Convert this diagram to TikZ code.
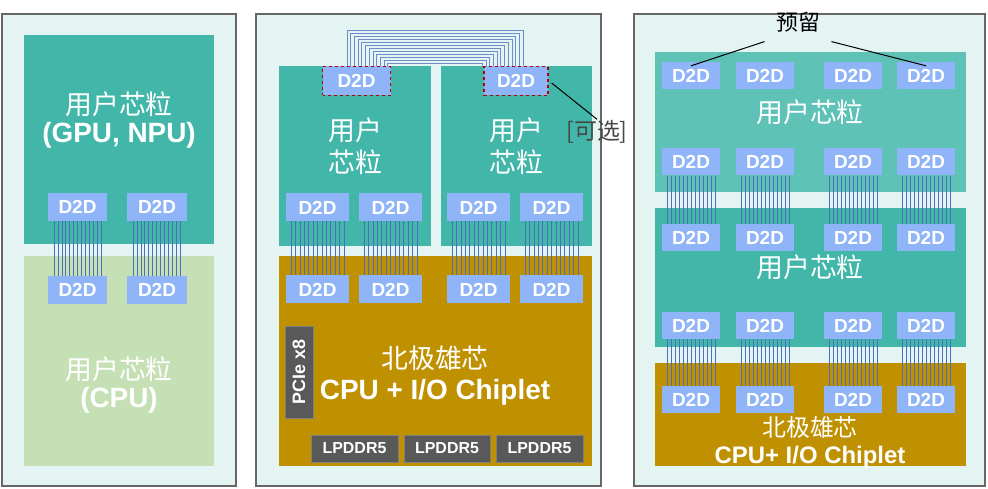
\documentclass[tikz,border=0pt]{standalone}
\usepackage{fontspec}
\setmainfont{Liberation Sans}
\newfontfamily\cjk{Noto Sans CJK SC}
\begin{document}
\definecolor{bg}{HTML}{E4F4F2}
\definecolor{teal}{HTML}{41B6A9}
\definecolor{teall}{HTML}{5EC2B7}
\definecolor{lgreen}{HTML}{C6E0B5}
\definecolor{gold}{HTML}{BF9000}
\definecolor{dgray}{HTML}{595959}
\definecolor{dblue}{HTML}{8FB4F7}
\definecolor{wire}{HTML}{4A6FC0}
\begin{tikzpicture}[x=1bp,y=-1bp,
 panel/.style={draw=gray!80!black,line width=1.2bp,fill=bg},
 d2d/.style={fill=dblue,text=white,font=\bfseries\fontsize{19}{19}\selectfont,inner sep=0pt,minimum width=60bp,minimum height=28bp},
 mem/.style={fill=dgray,draw=gray,text=white,font=\bfseries\fontsize{16}{16}\selectfont,inner sep=0pt,minimum width=86bp,minimum height=27bp},
 wl/.style={wire,line width=0.5bp},
 lab/.style={text=white,align=center,font=\cjk\fontsize{27}{32}\selectfont}]
\useasboundingbox (0,0) rectangle (988,489);
\fill[white] (0,0) rectangle (988,489);
% panels
\draw[panel] (2,14) rectangle (236,486);
\draw[panel] (256,14) rectangle (601,486);
\draw[panel] (634,14) rectangle (985,486);
% left
\fill[teal] (24,35) rectangle (214,244);
\fill[lgreen] (24,256) rectangle (214,466);
\foreach \x in {48,127}{\foreach \i in {0,...,12}{\draw[wl] (\x+6+\i*3.9,221) -- (\x+6+\i*3.9,276);}}
\node[d2d,minimum width=59bp] (l1) at (77.5,207) {D2D};
\node[d2d,minimum width=60bp] (l2) at (157,207) {D2D};
\node[d2d,minimum width=59bp] (l3) at (77.5,290) {D2D};
\node[d2d,minimum width=60bp] (l4) at (157,290) {D2D};
\node[lab] (lt) at (119,120) {用户芯粒\\[-4bp]{\rmfamily\bfseries\fontsize{28}{32}\selectfont (GPU, NPU)}};
\node[lab] (lb) at (119,385) {用户芯粒\\[-4bp]{\rmfamily\bfseries\fontsize{28}{32}\selectfont (CPU)}};
% middle
\fill[teal] (279,66) rectangle (431,246);
\fill[teal] (441,66) rectangle (592,246);
\fill[gold] (279,256) rectangle (592,466);
\foreach \i in {0,...,11}{\draw[wire!80!white,line width=0.7bp] (347+\i*3.7,66) -- (347+\i*3.7,30+\i*3) -- (523-\i*3.7,30+\i*3) -- (523-\i*3.7,66);}
\foreach \x in {286,359,447,520}{\foreach \i in {0,...,12}{\draw[wl] (\x+5+\i*4.4,221) -- (\x+5+\i*4.4,276);}}
\node[d2d,draw=red!70!black,dashed,line width=1.3bp,minimum width=68bp,minimum height=29bp] (m1) at (356.5,81) {D2D};
\node[d2d,draw=red!70!black,dashed,line width=1.3bp,minimum width=64bp,minimum height=29bp] (m2) at (516,81) {D2D};
\foreach \x [count=\k] in {286,359,447,520}{
 \node[d2d,minimum width=63bp] (mu\k) at (\x+31.5,207.5) {D2D};
 \node[d2d,minimum width=63bp] (md\k) at (\x+31.5,289.5) {D2D};}
\node[lab] (mt1) at (355,146) {用户\\芯粒};
\node[lab] (mt2) at (516,146) {用户\\芯粒};
\node[fill=dgray,draw=gray,minimum width=28bp,minimum height=92bp,inner sep=0pt] (pc) at (299,372) {};
\node[text=white,rotate=90,font=\bfseries\fontsize{18}{18}\selectfont] at (pc) {PCIe x8};
\node[lab] (mg) at (435,358) {北极雄芯};
\node[text=white,font=\bfseries\fontsize{28}{28}\selectfont] (mg2) at (435,392) {CPU + I/O Chiplet};
\node[mem,minimum width=87bp] (r1) at (354.5,448.5) {LPDDR5};
\node[mem] (r2) at (447,448.5) {LPDDR5};
\node[mem,minimum width=87bp] (r3) at (539.5,448.5) {LPDDR5};
\node[text=dgray!80!black,font=\cjk\fontsize{23}{23}\selectfont,inner sep=1pt] (opt) at (597,132) {[可选]};
\draw[line width=1bp] (m2.east) ++(3,2) coordinate (c0) -- (opt.north);
% right
\fill[teall] (655,52) rectangle (966,192);
\fill[teal] (655,208) rectangle (966,347);
\fill[gold] (655,363) rectangle (966,466);
\foreach \x in {662,736,824,897}{\foreach \i in {0,...,12}{
 \draw[wl] (\x+5+\i*4,176) -- (\x+5+\i*4,224);
 \draw[wl] (\x+5+\i*4,339) -- (\x+5+\i*4,386);}}
\foreach \x [count=\k] in {662,736,824,897}{
 \foreach \y [count=\j] in {75.5,162,237.5,325.5,399.5}{
  \node[d2d,minimum width=58bp,minimum height=27bp] (r\j\k) at (\x+29,\y) {D2D};}}
\node[font=\cjk\fontsize{22}{22}\selectfont] (yl) at (798,22) {预留};
\draw[line width=1bp] (yl.south west) ++(-8,6) -- ([yshift=-4bp]r11.north);
\draw[line width=1bp] (yl.south east) ++(8,6) -- ([yshift=-4bp]r14.north);
\node[lab] (rt1) at (810,112) {用户芯粒};
\node[lab] (rt2) at (810,267) {用户芯粒};
\node[text=white,font=\cjk\fontsize{24}{24}\selectfont] (rg1) at (810,427) {北极雄芯};
\node[text=white,font=\bfseries\fontsize{24}{24}\selectfont] (rg2) at (810,457) {CPU+ I/O Chiplet};
\end{tikzpicture}
\end{document}
